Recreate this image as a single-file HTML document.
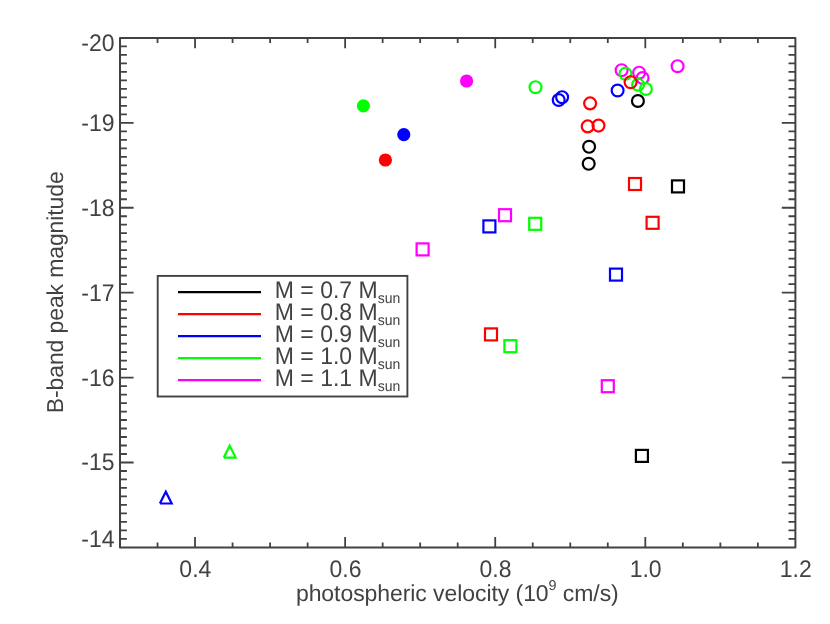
<!DOCTYPE html>
<html><head><meta charset="utf-8"><title>chart</title>
<style>html,body{margin:0;padding:0;background:#fff;}svg{display:block;will-change:transform;}text{font-family:"Liberation Sans",sans-serif;fill:#424242;text-rendering:geometricPrecision;}</style>
</head><body>
<svg width="830" height="624" viewBox="0 0 830 624">
<g stroke="#424242" stroke-width="1.80" stroke-linecap="butt" fill="none">
<path d="M157.52 547.40 V542.40 M157.52 37.90 V42.90"/>
<path d="M195.04 547.40 V537.10 M195.04 37.90 V48.20"/>
<path d="M232.57 547.40 V542.40 M232.57 37.90 V42.90"/>
<path d="M270.09 547.40 V542.40 M270.09 37.90 V42.90"/>
<path d="M307.61 547.40 V542.40 M307.61 37.90 V42.90"/>
<path d="M345.13 547.40 V537.10 M345.13 37.90 V48.20"/>
<path d="M382.66 547.40 V542.40 M382.66 37.90 V42.90"/>
<path d="M420.18 547.40 V542.40 M420.18 37.90 V42.90"/>
<path d="M457.70 547.40 V542.40 M457.70 37.90 V42.90"/>
<path d="M495.22 547.40 V537.10 M495.22 37.90 V48.20"/>
<path d="M532.74 547.40 V542.40 M532.74 37.90 V42.90"/>
<path d="M570.27 547.40 V542.40 M570.27 37.90 V42.90"/>
<path d="M607.79 547.40 V542.40 M607.79 37.90 V42.90"/>
<path d="M645.31 547.40 V537.10 M645.31 37.90 V48.20"/>
<path d="M682.83 547.40 V542.40 M682.83 37.90 V42.90"/>
<path d="M720.36 547.40 V542.40 M720.36 37.90 V42.90"/>
<path d="M757.88 547.40 V542.40 M757.88 37.90 V42.90"/>
<path d="M120.00 46.39 H126.90 M795.40 46.39 H788.50"/>
<path d="M120.00 54.88 H126.90 M795.40 54.88 H788.50"/>
<path d="M120.00 63.38 H126.90 M795.40 63.38 H788.50"/>
<path d="M120.00 71.87 H126.90 M795.40 71.87 H788.50"/>
<path d="M120.00 80.36 H126.90 M795.40 80.36 H788.50"/>
<path d="M120.00 88.85 H126.90 M795.40 88.85 H788.50"/>
<path d="M120.00 97.34 H126.90 M795.40 97.34 H788.50"/>
<path d="M120.00 105.83 H126.90 M795.40 105.83 H788.50"/>
<path d="M120.00 114.32 H126.90 M795.40 114.32 H788.50"/>
<path d="M120.00 122.82 H133.60 M795.40 122.82 H781.80"/>
<path d="M120.00 131.31 H126.90 M795.40 131.31 H788.50"/>
<path d="M120.00 139.80 H126.90 M795.40 139.80 H788.50"/>
<path d="M120.00 148.29 H126.90 M795.40 148.29 H788.50"/>
<path d="M120.00 156.78 H126.90 M795.40 156.78 H788.50"/>
<path d="M120.00 165.28 H126.90 M795.40 165.28 H788.50"/>
<path d="M120.00 173.77 H126.90 M795.40 173.77 H788.50"/>
<path d="M120.00 182.26 H126.90 M795.40 182.26 H788.50"/>
<path d="M120.00 190.75 H126.90 M795.40 190.75 H788.50"/>
<path d="M120.00 199.24 H126.90 M795.40 199.24 H788.50"/>
<path d="M120.00 207.73 H133.60 M795.40 207.73 H781.80"/>
<path d="M120.00 216.23 H126.90 M795.40 216.23 H788.50"/>
<path d="M120.00 224.72 H126.90 M795.40 224.72 H788.50"/>
<path d="M120.00 233.21 H126.90 M795.40 233.21 H788.50"/>
<path d="M120.00 241.70 H126.90 M795.40 241.70 H788.50"/>
<path d="M120.00 250.19 H126.90 M795.40 250.19 H788.50"/>
<path d="M120.00 258.68 H126.90 M795.40 258.68 H788.50"/>
<path d="M120.00 267.17 H126.90 M795.40 267.17 H788.50"/>
<path d="M120.00 275.67 H126.90 M795.40 275.67 H788.50"/>
<path d="M120.00 284.16 H126.90 M795.40 284.16 H788.50"/>
<path d="M120.00 292.65 H133.60 M795.40 292.65 H781.80"/>
<path d="M120.00 301.14 H126.90 M795.40 301.14 H788.50"/>
<path d="M120.00 309.63 H126.90 M795.40 309.63 H788.50"/>
<path d="M120.00 318.13 H126.90 M795.40 318.13 H788.50"/>
<path d="M120.00 326.62 H126.90 M795.40 326.62 H788.50"/>
<path d="M120.00 335.11 H126.90 M795.40 335.11 H788.50"/>
<path d="M120.00 343.60 H126.90 M795.40 343.60 H788.50"/>
<path d="M120.00 352.09 H126.90 M795.40 352.09 H788.50"/>
<path d="M120.00 360.58 H126.90 M795.40 360.58 H788.50"/>
<path d="M120.00 369.07 H126.90 M795.40 369.07 H788.50"/>
<path d="M120.00 377.57 H133.60 M795.40 377.57 H781.80"/>
<path d="M120.00 386.06 H126.90 M795.40 386.06 H788.50"/>
<path d="M120.00 394.55 H126.90 M795.40 394.55 H788.50"/>
<path d="M120.00 403.04 H126.90 M795.40 403.04 H788.50"/>
<path d="M120.00 411.53 H126.90 M795.40 411.53 H788.50"/>
<path d="M120.00 420.02 H126.90 M795.40 420.02 H788.50"/>
<path d="M120.00 428.52 H126.90 M795.40 428.52 H788.50"/>
<path d="M120.00 437.01 H126.90 M795.40 437.01 H788.50"/>
<path d="M120.00 445.50 H126.90 M795.40 445.50 H788.50"/>
<path d="M120.00 453.99 H126.90 M795.40 453.99 H788.50"/>
<path d="M120.00 462.48 H133.60 M795.40 462.48 H781.80"/>
<path d="M120.00 470.98 H126.90 M795.40 470.98 H788.50"/>
<path d="M120.00 479.47 H126.90 M795.40 479.47 H788.50"/>
<path d="M120.00 487.96 H126.90 M795.40 487.96 H788.50"/>
<path d="M120.00 496.45 H126.90 M795.40 496.45 H788.50"/>
<path d="M120.00 504.94 H126.90 M795.40 504.94 H788.50"/>
<path d="M120.00 513.43 H126.90 M795.40 513.43 H788.50"/>
<path d="M120.00 521.92 H126.90 M795.40 521.92 H788.50"/>
<path d="M120.00 530.42 H126.90 M795.40 530.42 H788.50"/>
<path d="M120.00 538.91 H126.90 M795.40 538.91 H788.50"/>
</g>
<rect x="120.00" y="37.90" width="675.40" height="509.50" fill="none" stroke="#424242" stroke-width="2.00" stroke-linejoin="round"/>
<text transform="translate(195.34 576.5) scale(1 1.045)" font-size="23" text-anchor="middle">0.4</text>
<text transform="translate(345.43 576.5) scale(1 1.045)" font-size="23" text-anchor="middle">0.6</text>
<text transform="translate(495.52 576.5) scale(1 1.045)" font-size="23" text-anchor="middle">0.8</text>
<text transform="translate(645.61 576.5) scale(1 1.045)" font-size="23" text-anchor="middle">1.0</text>
<text transform="translate(795.70 576.5) scale(1 1.045)" font-size="23" text-anchor="middle">1.2</text>
<text transform="translate(114.6 51.20) scale(1 1.045)" font-size="23" text-anchor="end">-20</text>
<text transform="translate(114.6 130.82) scale(1 1.045)" font-size="23" text-anchor="end">-19</text>
<text transform="translate(114.6 215.73) scale(1 1.045)" font-size="23" text-anchor="end">-18</text>
<text transform="translate(114.6 300.65) scale(1 1.045)" font-size="23" text-anchor="end">-17</text>
<text transform="translate(114.6 385.57) scale(1 1.045)" font-size="23" text-anchor="end">-16</text>
<text transform="translate(114.6 470.48) scale(1 1.045)" font-size="23" text-anchor="end">-15</text>
<text transform="translate(114.6 547.40) scale(1 1.045)" font-size="23" text-anchor="end">-14</text>
<text x="457.3" y="601.1" font-size="23" text-anchor="middle" letter-spacing="-0.07">photospheric velocity (10<tspan font-size="14.3" dy="-11">9</tspan><tspan dy="11"> cm/s)</tspan></text>
<text transform="translate(62.8 292.3) rotate(-90)" font-size="23" text-anchor="middle" letter-spacing="-0.12">B-band peak magnitude</text>
<rect x="157.7" y="275.9" width="249.70" height="120.60" fill="#ffffff" stroke="#424242" stroke-width="1.9"/>
<path d="M178 292.10 H261" stroke="#000000" stroke-width="2.2" fill="none"/>
<text transform="translate(274.8 297.80) scale(1 1.045)" font-size="23">M = 0.7 M<tspan font-size="14" dy="5">sun</tspan></text>
<path d="M178 314.10 H261" stroke="#ff0000" stroke-width="2.2" fill="none"/>
<text transform="translate(274.8 319.80) scale(1 1.045)" font-size="23">M = 0.8 M<tspan font-size="14" dy="5">sun</tspan></text>
<path d="M178 336.10 H261" stroke="#0000ff" stroke-width="2.2" fill="none"/>
<text transform="translate(274.8 341.80) scale(1 1.045)" font-size="23">M = 0.9 M<tspan font-size="14" dy="5">sun</tspan></text>
<path d="M178 358.10 H261" stroke="#00ff00" stroke-width="2.2" fill="none"/>
<text transform="translate(274.8 363.80) scale(1 1.045)" font-size="23">M = 1.0 M<tspan font-size="14" dy="5">sun</tspan></text>
<path d="M178 380.10 H261" stroke="#ff00ff" stroke-width="2.2" fill="none"/>
<text transform="translate(274.8 385.80) scale(1 1.045)" font-size="23">M = 1.1 M<tspan font-size="14" dy="5">sun</tspan></text>
<g stroke="#ff00ff" stroke-width="2.20" fill="none">
<rect x="416.60" y="243.40" width="12" height="12"/>
<rect x="499.00" y="209.20" width="12" height="12"/>
<rect x="601.80" y="380.20" width="12" height="12"/>
<circle cx="621.60" cy="70.20" r="5.95"/>
<circle cx="639.10" cy="72.70" r="5.95"/>
<circle cx="642.60" cy="78.00" r="5.95"/>
<circle cx="677.60" cy="66.20" r="5.95"/>
<circle cx="466.60" cy="81.00" r="5.5" fill="#ff00ff"/>
</g>
<g stroke="#00ff00" stroke-width="2.20" fill="none">
<rect x="529.20" y="217.80" width="12" height="12"/>
<rect x="504.40" y="340.20" width="12" height="12"/>
<path d="M223.80 457.60 L229.70 445.80 L235.60 457.60 L223.80 457.60" stroke-linejoin="miter"/>
<circle cx="625.40" cy="73.70" r="5.95"/>
<circle cx="638.10" cy="84.70" r="5.95"/>
<circle cx="645.90" cy="89.00" r="5.95"/>
<circle cx="535.50" cy="87.20" r="5.95"/>
<circle cx="363.40" cy="105.80" r="5.5" fill="#00ff00"/>
</g>
<g stroke="#0000ff" stroke-width="2.20" fill="none">
<rect x="483.40" y="220.40" width="12" height="12"/>
<rect x="610.00" y="268.60" width="12" height="12"/>
<path d="M159.90 503.50 L165.80 491.70 L171.70 503.50 L159.90 503.50" stroke-linejoin="miter"/>
<circle cx="617.60" cy="90.50" r="5.95"/>
<circle cx="558.70" cy="100.00" r="5.95"/>
<circle cx="562.10" cy="97.20" r="5.95"/>
<circle cx="403.80" cy="134.60" r="5.5" fill="#0000ff"/>
</g>
<g stroke="#ff0000" stroke-width="2.20" fill="none">
<rect x="629.00" y="178.00" width="12" height="12"/>
<rect x="646.60" y="216.80" width="12" height="12"/>
<rect x="485.00" y="328.40" width="12" height="12"/>
<circle cx="630.60" cy="82.20" r="5.95"/>
<circle cx="590.10" cy="103.40" r="5.95"/>
<circle cx="587.70" cy="126.40" r="5.95"/>
<circle cx="598.50" cy="125.60" r="5.95"/>
<circle cx="385.40" cy="160.00" r="5.5" fill="#ff0000"/>
</g>
<g stroke="#000000" stroke-width="2.20" fill="none">
<rect x="672.00" y="180.40" width="12" height="12"/>
<rect x="635.90" y="449.90" width="12" height="12"/>
<circle cx="637.90" cy="101.00" r="5.95"/>
<circle cx="589.10" cy="146.80" r="5.95"/>
<circle cx="588.70" cy="163.80" r="5.95"/>
</g>
</svg>
</body></html>
